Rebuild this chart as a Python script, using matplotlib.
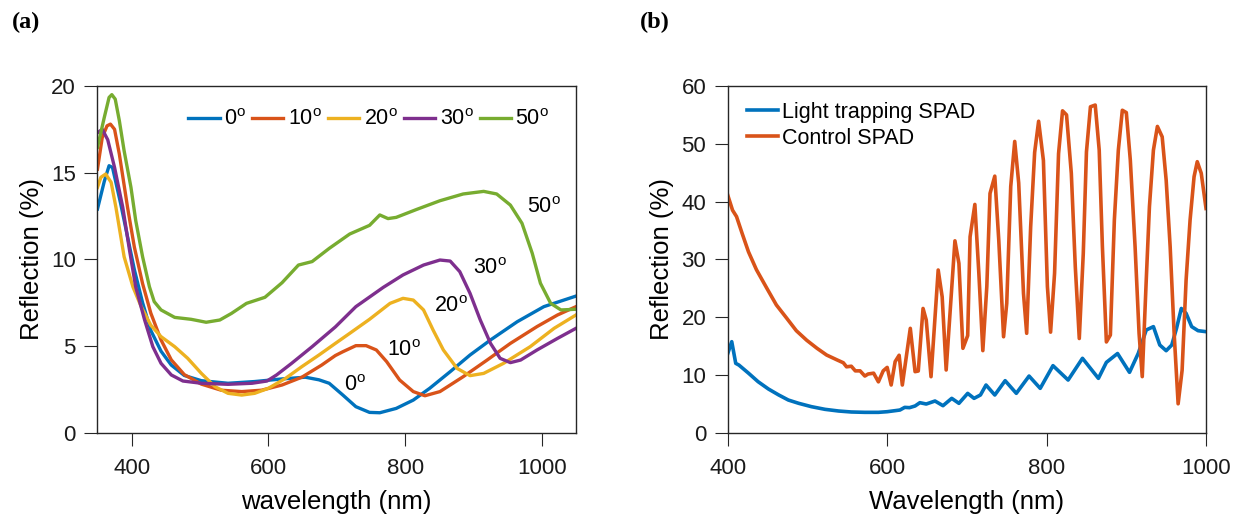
import numpy as np
import matplotlib
matplotlib.use("Agg")
import matplotlib.pyplot as plt

plt.rcParams['font.family'] = ['Liberation Sans', 'DejaVu Sans']
plt.rcParams['mathtext.fontset'] = 'custom'
plt.rcParams['mathtext.rm'] = 'Liberation Sans'

# MATLAB default colours
c_blue = '#0072BD'
c_red = '#D95319'
c_yel = '#EDB120'
c_pur = '#7E2F8E'
c_grn = '#77AC30'
ax_col = '#262626'

# ---------- (a) angle dependent reflection ----------
wl_0 = [350, 360, 367, 372, 384, 394, 404, 416, 428, 443, 458, 477, 502, 541, 580, 620,
        654, 674, 689, 709, 728, 748, 763, 787, 812, 836, 866, 895, 925, 964, 1003, 1050]
r_0 = [12.9, 14.5, 15.4, 15.3, 13.2, 11.3, 9.4, 7.5, 5.9, 4.7, 3.9, 3.3, 3.0, 2.85, 2.95, 3.1,
       3.2, 3.05, 2.85, 2.17, 1.5, 1.17, 1.15, 1.4, 1.88, 2.56, 3.52, 4.48, 5.35, 6.4, 7.27, 7.88]

wl_10 = [350, 357, 364, 369, 375, 382, 394, 404, 416, 428, 443, 458, 477, 502, 531, 561, 590, 620,
         649, 678, 698, 709, 728, 743, 758, 773, 792, 812, 829, 851, 885, 920, 954, 993, 1023, 1050]
r_10 = [15.2, 17.03, 17.7, 17.8, 17.5, 16.07, 13.0, 10.7, 8.6, 6.9, 5.35, 4.2, 3.35, 2.8, 2.45, 2.37, 2.45, 2.75,
        3.2, 3.9, 4.45, 4.67, 5.02, 5.02, 4.77, 4.1, 3.04, 2.37, 2.13, 2.37, 3.23, 4.19, 5.15, 6.12, 6.79, 7.27]

wl_20 = [350, 355, 362, 370, 377, 389, 402, 414, 428, 443, 463, 482, 502, 522, 541, 561, 580, 600, 625,
         649, 674, 698, 719, 748, 778, 797, 812, 827, 841, 856, 876, 895, 915, 944, 983, 1018, 1050]
r_20 = [14.15, 14.73, 14.92, 14.44, 13.0, 10.15, 8.4, 7.27, 6.2, 5.54, 4.96, 4.29, 3.42, 2.65, 2.27, 2.17, 2.27, 2.56, 3.13,
        3.81, 4.48, 5.15, 5.73, 6.54, 7.46, 7.75, 7.65, 7.08, 5.92, 4.77, 3.71, 3.29, 3.42, 4.0, 4.96, 6.02, 6.79]

wl_30 = [350, 357, 365, 375, 387, 397, 406, 419, 431, 443, 458, 475, 502, 541, 576, 598, 612, 634,
         664, 698, 728, 768, 797, 827, 851, 866, 880, 895, 910, 925, 939, 954, 969, 993, 1023, 1050]
r_30 = [17.3, 17.5, 16.9, 15.3, 13.0, 10.5, 8.4, 6.5, 4.96, 4.0, 3.33, 2.98, 2.85, 2.79, 2.85, 2.98, 3.33, 4.0,
        4.96, 6.1, 7.27, 8.38, 9.1, 9.67, 9.96, 9.9, 9.29, 8.04, 6.5, 5.15, 4.29, 4.04, 4.19, 4.77, 5.44, 6.02]

wl_50 = [350, 360, 367, 371, 376, 382, 389, 399, 406, 416, 426, 433, 443, 463, 487, 509, 529, 546, 568, 595, 620,
         644, 664, 689, 719, 748, 763, 775, 787, 817, 851, 885, 915, 934, 954, 971, 986, 998, 1013, 1028, 1050]
r_50 = [16.46, 18.19, 19.34, 19.5, 19.24, 18.0, 16.26, 14.15, 12.23, 10.15, 8.42, 7.56, 7.08, 6.65, 6.54, 6.37, 6.5, 6.88,
        7.46, 7.81, 8.65, 9.67, 9.87, 10.63, 11.46, 11.96, 12.56, 12.35, 12.42, 12.88, 13.38, 13.77, 13.92, 13.77, 13.13,
        12.08, 10.35, 8.62, 7.46, 7.08, 7.12]

angles = ['0', '10', '20', '30', '50']
# label anchor points (wavelength, reflection) for the in-plot angle labels
lab_wl = [711, 774, 842, 900, 978]
lab_r = [2.4, 4.42, 6.94, 9.13, 12.65]

# ---------- (b) SPAD reflection ----------
wl_ctrl = [400, 406, 411, 418, 426, 436, 449, 461, 474, 486, 499, 512, 524, 537, 545, 549, 555, 560, 566, 572,
           576, 583, 589, 595, 600, 605, 610, 615, 619, 624, 629, 635, 639, 645, 649, 655, 664, 669, 674, 685,
           690, 695, 701, 704, 710, 715, 720, 725, 729, 735, 740, 746, 750, 755, 760, 765, 771, 775, 780, 785,
           790, 796, 801, 805, 810, 815, 820, 825, 831, 836, 841, 846, 850, 855, 861, 866, 870, 875, 880, 885,
           890, 895, 900, 905, 911, 916, 920, 925, 929, 934, 939, 945, 950, 955, 960, 965, 970, 975, 980, 985,
           989, 994, 1000]
r_ctrl = [41.1, 38.5, 37.4, 34.5, 31.3, 28.2, 25.0, 22.1, 19.8, 17.65, 16.0, 14.6, 13.44, 12.6, 12.1, 11.4, 11.5, 10.7, 10.7, 9.8,
          10.15, 10.3, 8.8, 10.7, 11.3, 8.25, 12.3, 13.4, 8.25, 13.15, 18.06, 10.56, 10.67, 21.5, 19.5, 9.69, 28.15, 23.5, 10.85, 33.2,
          29.3, 14.6, 16.8, 33.9, 39.5, 27.6, 14.2, 25.3, 41.4, 44.4, 33.3, 16.6, 22.4, 42.6, 50.4, 43.2, 24.1, 17.2, 35.6, 48.5,
          53.9, 47.1, 25.3, 17.4, 27.6, 48.3, 55.7, 55.0, 44.9, 28.7, 16.3, 31.0, 48.6, 56.4, 56.7, 48.9, 32.2, 15.7, 16.9, 36.8,
          48.9, 55.8, 55.4, 47.2, 32.2, 17.2, 9.7, 26.4, 39.1, 48.9, 53.0, 51.2, 43.7, 32.2, 17.2, 5.0, 10.8, 26.4, 36.8, 44.3,
          46.9, 44.9, 38.8]

wl_lt = [400, 405, 410, 414, 426, 438, 451, 464, 476, 489, 505, 522, 539, 555, 572, 589, 600, 610, 616, 622,
         628, 635, 641, 649, 660, 670, 681, 690, 701, 709, 717, 724, 735, 748, 762, 778, 792, 808, 827, 845,
         865, 875, 889, 904, 915, 925, 934, 942, 950, 957, 963, 969, 975, 982, 990, 1000]
r_lt = [13.7, 15.75, 12.0, 11.7, 10.3, 8.83, 7.56, 6.52, 5.65, 5.08, 4.5, 4.04, 3.75, 3.58, 3.52, 3.52, 3.63, 3.81, 3.92, 4.38,
        4.33, 4.62, 5.19, 4.96, 5.48, 4.67, 5.94, 5.08, 6.8, 5.94, 6.52, 8.25, 6.52, 9.0, 6.81, 9.8, 7.67, 11.6, 9.11, 12.87,
        9.4, 12.17, 13.7, 10.44, 13.73, 17.77, 18.35, 15.17, 14.19, 15.17, 18.06, 21.5, 20.65, 18.35, 17.65, 17.48]


def style_axes(ax):
    for s in ax.spines.values():
        s.set_color(ax_col)
        s.set_linewidth(1.0)
    ax.tick_params(direction='out', length=9.5, width=0.8, color=ax_col,
                   labelsize=16, labelcolor='#1a1a1a')
    ax.tick_params(axis='y', pad=6)
    ax.tick_params(axis='x', pad=9)


fig = plt.figure(figsize=(12.4, 5.23), dpi=100)
ax1 = fig.add_axes([0.0786, 0.1727, 0.3859, 0.6629])
ax2 = fig.add_axes([0.5869, 0.1727, 0.3857, 0.6629])

lw = 2.4
deg = r'$^{\rm o}$'
series = [(wl_0, r_0, c_blue), (wl_10, r_10, c_red), (wl_20, r_20, c_yel),
          (wl_30, r_30, c_pur), (wl_50, r_50, c_grn)]
for (x, y, c), a in zip(series, angles):
    ax1.plot(x, y, color=c, lw=lw, label=a + deg, solid_joinstyle='round')
for a, x, y in zip(angles, lab_wl, lab_r):
    ax1.text(x, y, a + deg, fontsize=15.5, ha='left', va='baseline')

ax1.set_xlim(350, 1050)
ax1.set_ylim(0, 20)
ax1.set_xticks([400, 600, 800, 1000])
ax1.set_yticks([0, 5, 10, 15, 20])
style_axes(ax1)
ax1.set_xlabel('wavelength (nm)', fontsize=18.5)
ax1.set_ylabel('Reflection (%)', fontsize=18.5)
ax1.xaxis.set_label_coords(0.5, -0.165)
ax1.yaxis.set_label_coords(-0.112, 0.5)
ax1.legend(loc='center left', bbox_to_anchor=(0.19, 0.902), ncol=5, frameon=False,
           fontsize=15.5, handlelength=1.45, handletextpad=0.2, columnspacing=0.3,
           borderpad=0, borderaxespad=0)

ax2.plot(wl_lt, r_lt, color=c_blue, lw=2.6, label='Light trapping SPAD')
ax2.plot(wl_ctrl, r_ctrl, color=c_red, lw=2.6, label='Control SPAD')
ax2.set_xlim(400, 1000)
ax2.set_ylim(0, 60)
ax2.set_xticks([400, 600, 800, 1000])
ax2.set_yticks(np.arange(0, 61, 10))
style_axes(ax2)
ax2.set_xlabel('Wavelength (nm)', fontsize=18.5)
ax2.set_ylabel('Reflection (%)', fontsize=18.5)
ax2.xaxis.set_label_coords(0.5, -0.165)
ax2.yaxis.set_label_coords(-0.112, 0.5)
ax2.legend(loc='upper left', bbox_to_anchor=(0.04, 0.955), frameon=False,
           fontsize=15.5, handlelength=1.45, handletextpad=0.2, labelspacing=0.25,
           borderpad=0, borderaxespad=0)

fig.text(0.0097, 0.958, '(a)', fontsize=17.5, fontweight='bold',
         family='Liberation Serif', va='center', ha='left')
fig.text(0.516, 0.958, '(b)', fontsize=17.5, fontweight='bold',
         family='Liberation Serif', va='center', ha='left')

fig.savefig('out.png', dpi=100)
